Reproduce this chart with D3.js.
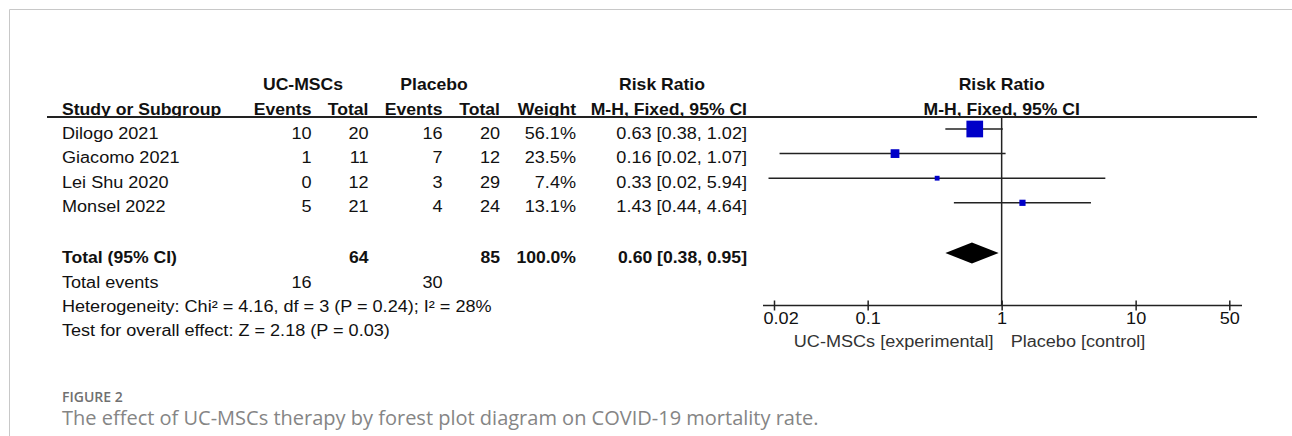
<!DOCTYPE html>
<html>
<head>
<meta charset="utf-8">
<script src="https://cdnjs.cloudflare.com/ajax/libs/d3/7.8.5/d3.min.js"></script>
<style>
  body { margin:0; background:#fff; }
  svg { display:block; }
  .t { font-family:"Liberation Sans", Arial, sans-serif; font-size:16px; fill:#111; }
  .b { font-weight:bold; }
</style>
</head>
<body>
<svg id="chart" width="1292" height="436"></svg>
<script>
// ---- data ----
const studies = ["Dilogo 2021", "Giacomo 2021", "Lei Shu 2020", "Monsel 2022"];
const expEvents = [10, 1, 0, 5];
const expTotal = [20, 11, 12, 21];
const ctrlEvents = [16, 7, 3, 4];
const ctrlTotal = [20, 12, 29, 24];
const weights = [56.1, 23.5, 7.4, 13.1];
const riskRatio = [0.63, 0.16, 0.33, 1.43];
const ciLow = [0.38, 0.022, 0.0182, 0.44];
const ciHigh = [1.02, 1.07, 5.94, 4.64];
const pooled = [0.60, 0.38, 0.95];   // RR, low, high
const tickValues = [0.02, 0.1, 1, 10, 50];
const tickLabels = ["0.02", "0.1", "1", "10", "50"];
const statLines = [
  "Heterogeneity: Chi\u00B2 = 4.16, df = 3 (P = 0.24); I\u00B2 = 28%",
  "Test for overall effect: Z = 2.18 (P = 0.03)"
];

const svg = d3.select("#chart");
const sx = 1.13, sxBold = 1.10;   // RevMan font is wider than Arial
const f2 = d3.format(".2f");

function txt(x, y, s, anchor, bold) {
  return svg.append("text")
    .attr("class", "t" + (bold ? " b" : ""))
    .attr("transform", `translate(${x},${y}) scale(${bold ? sxBold : sx},1)`)
    .attr("text-anchor", anchor || "start")
    .text(s);
}

// frame
svg.append("line").attr("x1", 9.5).attr("x2", 1292).attr("y1", 9.5).attr("y2", 9.5).attr("stroke", "#c8c8c8");
svg.append("line").attr("x1", 9.5).attr("x2", 9.5).attr("y1", 9.5).attr("y2", 436).attr("stroke", "#c8c8c8");

// columns (right edges)
const col = { study: 62, ee: 311.5, et: 368.5, ce: 442.5, ct: 500, w: 576, ci: 747 };

// headers
txt(303, 90, "UC-MSCs", "middle", true);
txt(434, 90, "Placebo", "middle", true);
txt(662, 90, "Risk Ratio", "middle", true);
txt(col.study, 115, "Study or Subgroup", "start", true);
txt(col.ee, 115, "Events", "end", true);
txt(col.et, 115, "Total", "end", true);
txt(col.ce, 115, "Events", "end", true);
txt(col.ct, 115, "Total", "end", true);
txt(col.w, 115, "Weight", "end", true);
txt(col.ci, 115, "M-H, Fixed, 95% CI", "end", true);

const x = d3.scaleLog().domain([0.02, 50]).range([774, 1229.3]);
txt(x(1), 90, "Risk Ratio", "middle", true);
txt(x(1), 115, "M-H, Fixed, 95% CI", "middle", true);

svg.append("line").attr("x1", 47).attr("x2", 1257).attr("y1", 117).attr("y2", 117)
  .attr("stroke", "#222").attr("stroke-width", 2);

// study rows
const rowBase = d3.scaleLinear().domain([0, 3]).range([138.5, 212.3]);
const boxSize = d3.scaleLinear().domain([0, 100]).range([3, 27.4]);
const axisY = 305.5;

// null line
svg.append("line").attr("x1", x(1)).attr("x2", x(1)).attr("y1", 117).attr("y2", axisY)
  .attr("stroke", "#222").attr("stroke-width", 1.5);

studies.forEach((s, i) => {
  const y = rowBase(i);
  txt(col.study, y, s);
  txt(col.ee, y, expEvents[i], "end");
  txt(col.et, y, expTotal[i], "end");
  txt(col.ce, y, ctrlEvents[i], "end");
  txt(col.ct, y, ctrlTotal[i], "end");
  txt(col.w, y, weights[i].toFixed(1) + "%", "end");
  txt(col.ci, y, `${f2(riskRatio[i])} [${f2(ciLow[i])}, ${f2(ciHigh[i])}]`, "end");

  const my = y - 9.5;
  svg.append("line").attr("x1", x(ciLow[i])).attr("x2", x(ciHigh[i]))
    .attr("y1", my).attr("y2", my).attr("stroke", "#222").attr("stroke-width", 1.5);
  const sz = boxSize(weights[i]);
  svg.append("rect").attr("x", x(riskRatio[i]) - sz / 2).attr("y", my - sz / 2)
    .attr("width", sz).attr("height", sz).attr("fill", "#0000c8");
});

// total rows
const totY = 263;
txt(col.study, totY, "Total (95% CI)", "start", true);
txt(col.et, totY, d3.sum(expTotal), "end", true);
txt(col.ct, totY, d3.sum(ctrlTotal), "end", true);
txt(col.w, totY, "100.0%", "end", true);
txt(col.ci, totY, `${f2(pooled[0])} [${f2(pooled[1])}, ${f2(pooled[2])}]`, "end", true);

const dy = 253, dh = 10.5;
svg.append("path")
  .attr("d", `M${x(pooled[1])},${dy}L${x(pooled[0])},${dy - dh}L${x(pooled[2])},${dy}L${x(pooled[0])},${dy + dh}Z`)
  .attr("fill", "#000");

txt(col.study, 287.5, "Total events");
txt(col.ee, 287.5, d3.sum(expEvents), "end");
txt(col.ce, 287.5, d3.sum(ctrlEvents), "end");
txt(col.study, 312, statLines[0]);
txt(col.study, 336, statLines[1]);

// axis
svg.append("line").attr("x1", 763).attr("x2", 1242).attr("y1", axisY).attr("y2", axisY)
  .attr("stroke", "#222").attr("stroke-width", 1.5);
const ax = svg.append("g").attr("transform", `translate(0,${axisY - 5})`)
  .call(d3.axisBottom(x).tickValues(tickValues).tickFormat((d, i) => tickLabels[i])
    .tickSize(10).tickPadding(2));
ax.select(".domain").remove();
ax.selectAll(".tick line").attr("stroke", "#222").attr("stroke-width", 1.5);
ax.selectAll(".tick text")
  .attr("class", "t")
  .attr("fill", "#111")
  .attr("transform", `scale(${sx},1)`);
ax.select(".tick text").attr("text-anchor", "start").attr("x", (763 - x(0.02)) / sx);

txt(x(1) - 8, 347, "UC-MSCs [experimental]", "end").style("fill", "#333");
txt(x(1) + 9, 347, "Placebo [control]", "start").style("fill", "#333");

// caption
svg.append("text").attr("x", 62).attr("y", 402)
  .style("font-family", "'Open Sans', sans-serif").style("font-size", "14px")
  .style("fill", "#707070").style("font-weight", 600)
  .text("FIGURE 2");
svg.append("text").attr("x", 62).attr("y", 425)
  .style("font-family", "'Open Sans', sans-serif").style("font-size", "20px")
  .style("fill", "#858585")
  .text("The effect of UC-MSCs therapy by forest plot diagram on COVID-19 mortality rate.");
</script>
</body>
</html>
